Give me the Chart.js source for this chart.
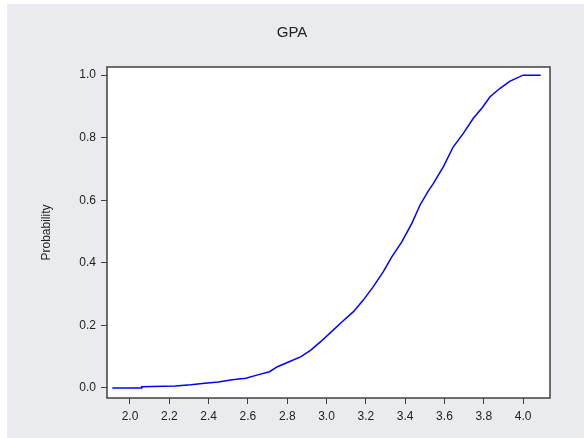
<!DOCTYPE html>
<html lang="en">
<head>
<meta charset="UTF-8">
<title>GPA</title>
<script src="https://cdn.jsdelivr.net/npm/chart.js"></script>
<style>
  html, body { margin: 0; padding: 0; background: #fff; }
  #wrap { position: relative; width: 584px; height: 438px; }
</style>
</head>
<body>
<div id="wrap"><canvas id="cdf" width="584" height="438"></canvas></div>
<script>
var gpa  = [1.91, 2.06, 2.06, 2.23, 2.31, 2.38, 2.45, 2.52, 2.59, 2.65, 2.71, 2.75, 2.81, 2.87, 2.92, 2.97, 3.02, 3.085, 3.137, 3.187, 3.238, 3.289, 3.332, 3.383, 3.434, 3.476, 3.518, 3.544, 3.594, 3.645, 3.696, 3.747, 3.79, 3.832, 3.883, 3.934, 4.0, 4.09];
var prob = [0.0, 0.0, 0.004, 0.006, 0.01, 0.015, 0.019, 0.026, 0.031, 0.042, 0.052, 0.068, 0.084, 0.1, 0.121, 0.148, 0.177, 0.215, 0.244, 0.281, 0.324, 0.372, 0.419, 0.467, 0.526, 0.585, 0.63, 0.654, 0.707, 0.771, 0.814, 0.862, 0.894, 0.931, 0.958, 0.981, 1.0, 1.0];
var xTicks = [2.0, 2.2, 2.4, 2.6, 2.8, 3.0, 3.2, 3.4, 3.6, 3.8, 4.0];
var yTicks = [0.0, 0.2, 0.4, 0.6, 0.8, 1.0];

var points = [];
for (var i = 0; i < gpa.length; i++) {
  points.push({x: gpa[i], y: prob[i]});
}

var txt = '#222';
var fontFam = "'Liberation Sans', Arial, sans-serif";

// gray panel behind everything + box around the plot
var frame = {
  id: 'frame',
  beforeDraw: function(chart) {
    var c = chart.ctx;
    c.save();
    c.fillStyle = '#eaebee';
    c.fillRect(7, 4, 577, 434);
    var a = chart.chartArea;
    c.fillStyle = '#fff';
    c.fillRect(a.left, a.top, a.right - a.left, a.bottom - a.top);
    c.restore();
  },
  afterDraw: function(chart) {
    var c = chart.ctx, a = chart.chartArea;
    c.save();
    c.strokeStyle = '#404040';
    c.lineWidth = 1.5;
    c.strokeRect(a.left, a.top, a.right - a.left, a.bottom - a.top);
    c.restore();
  }
};

new Chart(document.getElementById('cdf'), {
  type: 'line',
  data: {
    datasets: [{
      label: 'GPA',
      data: points,
      borderColor: '#0000ff',
      borderWidth: 1.5,
      pointRadius: 0,
      tension: 0,
      fill: false
    }]
  },
  options: {
    responsive: false,
    animation: false,
    layout: { padding: 0 },
    plugins: {
      legend: { display: false },
      tooltip: { enabled: false },
      title: {
        display: true,
        text: 'GPA',
        color: txt,
        font: { family: fontFam, size: 15, weight: 'normal' },
        padding: { top: 24, bottom: 25 }
      }
    },
    scales: {
      x: {
        type: 'linear',
        min: 1.883,
        max: 4.137,
        afterBuildTicks: function(axis) { axis.ticks = xTicks.map(function(v) { return {value: v}; }); },
        afterFit: function(axis) { axis.height = 40; },
        border: { display: false },
        grid: { drawOnChartArea: false, drawTicks: true, tickLength: 6, color: '#404040', lineWidth: 1 },
        ticks: {
          color: txt,
          padding: 5,
          maxRotation: 0,
          autoSkip: false,
          font: { family: fontFam, size: 12 },
          callback: function(v) { return Number(v).toFixed(1); }
        }
      },
      y: {
        type: 'linear',
        min: -0.032,
        max: 1.026,
        afterBuildTicks: function(axis) { axis.ticks = yTicks.map(function(v) { return {value: v}; }); },
        afterFit: function(axis) { axis.width = 107; },
        border: { display: false },
        grid: { drawOnChartArea: false, drawTicks: true, tickLength: 6, color: '#404040', lineWidth: 1 },
        title: {
          display: true,
          text: 'Probability',
          color: txt,
          font: { family: fontFam, size: 12 },
          padding: { top: 39, bottom: 0 }
        },
        ticks: {
          color: txt,
          padding: 5,
          autoSkip: false,
          font: { family: fontFam, size: 12 },
          callback: function(v) { return Number(v).toFixed(1); }
        }
      },
      // empty right-hand spacer so the title stays centred on the whole figure
      spacer: {
        type: 'linear',
        position: 'right',
        afterFit: function(axis) { axis.width = 34; },
        border: { display: false },
        grid: { display: false },
        ticks: { display: false }
      }
    }
  },
  plugins: [frame]
});
</script>
</body>
</html>
